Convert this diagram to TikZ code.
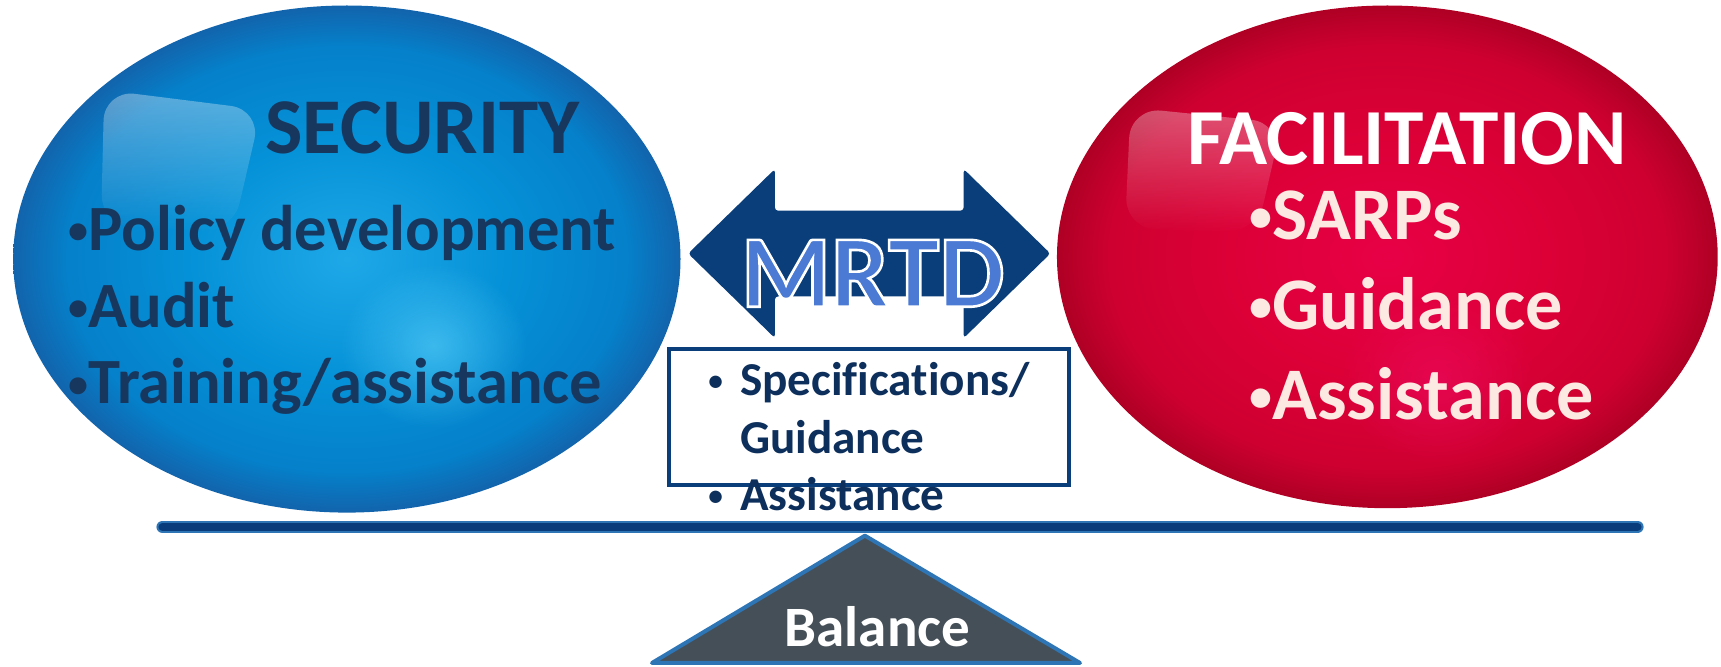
\documentclass[tikz,border=0pt]{standalone}
\usepackage{fontspec}
\usepackage{graphicx}
\setmainfont{Carlito}[Ligatures=NoCommon]
\usetikzlibrary{fadings,calc}
\definecolor{navy}{RGB}{23,55,94}
\definecolor{boxnavy}{RGB}{13,47,92}
\definecolor{arrowblue}{RGB}{10,62,122}
\definecolor{mrtdblue}{RGB}{74,122,212}
\definecolor{cream}{RGB}{252,234,226}
\definecolor{linedark}{RGB}{8,60,122}
\definecolor{linelight}{RGB}{46,117,182}
\definecolor{trigrey}{RGB}{69,79,87}
\definecolor{bA}{RGB}{30,168,232}
\definecolor{bB}{RGB}{5,145,215}
\definecolor{bC}{RGB}{5,128,202}
\definecolor{bD}{RGB}{18,100,172}
\definecolor{rA}{RGB}{232,0,70}
\definecolor{rB}{RGB}{220,0,55}
\definecolor{rC}{RGB}{206,0,48}
\definecolor{rD}{RGB}{175,0,36}
\pgfdeclareradialshading{blueball}{\pgfpoint{0bp}{0bp}}{color(0bp)=(bA); color(12bp)=(bB); color(21bp)=(bC); color(25bp)=(bD); color(50bp)=(bD)}
\pgfdeclareradialshading{redball}{\pgfpoint{0bp}{0bp}}{color(0bp)=(rA); color(12bp)=(rB); color(21bp)=(rC); color(25bp)=(rD); color(50bp)=(rD)}
\tikzfading[name=glowfade, inner color=transparent!0, outer color=transparent!100]
\newcommand\smbul{\raisebox{0.1em}{\scalebox{0.62}{•}}}
\tikzset{
  bigtitle/.style={anchor=base, font=\bfseries\fontsize{36}{36}\selectfont},
  leftitem/.style={anchor=base west, inner sep=0pt, text=navy, font=\bfseries\fontsize{29.4}{29.4}\selectfont},
  rightitem/.style={anchor=base west, inner sep=0pt, text=cream, font=\bfseries\fontsize{33.8}{33.8}\selectfont},
  boxitem/.style={anchor=base west, inner sep=0pt, text=boxnavy, font=\bfseries\fontsize{21.5}{21.5}\selectfont},
  mrtd/.style={anchor=base, font=\bfseries\fontsize{47}{47}\selectfont}
}
\begin{document}
\begin{tikzpicture}[x=0.5pt,y=-0.5pt]
\useasboundingbox (0,0) rectangle (1568,607);
% blue ball
\shade[shading=blueball] (316,236) ellipse [x radius=304, y radius=231];
\fill[white, opacity=0.35, path fading=south, rounded corners=14]
  (95,82) -- (238,100) -- (212,212) -- (92,205) -- cycle;
\fill[cyan!70!white, opacity=0.75, path fading=glowfade] (395,315) ellipse [x radius=85, y radius=75];
% red ball
\shade[shading=redball] (1264,234) ellipse [x radius=301, y radius=229];
\fill[white, opacity=0.32, path fading=south, rounded corners=14]
  (1030,98) -- (1168,112) -- (1145,212) -- (1025,208) -- cycle;
\fill[magenta!60!red, opacity=0.6, path fading=glowfade] (1310,345) ellipse [x radius=90, y radius=80];
% texts left
\node[bigtitle, text=navy] (sec) at (385,140) {SECURITY};
\node[leftitem] (pol) at (62,228) {\smbul Policy development};
\node[leftitem] (aud) at (62,298) {\smbul Audit};
\node[leftitem] (tra) at (62,368) {\smbul Training/assistance};
% texts right
\node[bigtitle, text=white, font=\bfseries\fontsize{36.2}{36.2}\selectfont] (fac) at (1282,150) {FACILITATION};
\node[rightitem] (sar) at (1138,218) {\smbul SARPs};
\node[rightitem] (gui) at (1138,300) {\smbul Guidance};
\node[rightitem] (ass) at (1138,382) {\smbul Assistance};
% double arrow
\fill[arrowblue, rounded corners=1.5] (627,231) -- (706,154) -- (706,192) -- (878,192) -- (878,154)
  -- (957,231) -- (878,308) -- (878,270) -- (706,270) -- (706,308) -- cycle;
% MRTD text, outlined in white
\node[mrtd, text=mrtdblue] (mrtd) at (795,279.5)
  {\special{pdf:literal direct 2 Tr 1.2 w 1 1 1 RG}MRTD\special{pdf:literal direct 0 Tr}};
% box
\node[draw=arrowblue, line width=1.8pt, fill=white, anchor=north west,
  minimum width=182pt, minimum height=62pt, inner sep=0pt] (specbox) at (608,316) {};
\node[boxitem] (b1) at (645,360) {\smbul};
\node[boxitem] (t1) at (674,360) {Specifications/};
\node[boxitem] (t2) at (674,413) {Guidance};
\node[boxitem] (b2) at (645,465) {\smbul};
\node[boxitem] (t3) at (674,465) {Assistance};
% balance beam
\coordinate (beamL) at (148,480);
\coordinate (beamR) at (1492,480);
\draw[linelight, line width=5.5pt, line cap=round] (beamL) -- (beamR);
\draw[linedark, line width=3.6pt, line cap=round] (beamL) -- (beamR);
% fulcrum
\coordinate (apex) at (788,488);
\coordinate (baseR) at (984,604);
\coordinate (baseL) at (594,604);
\draw[fill=trigrey, draw=linelight, line width=1.8pt, line join=round] (apex) -- (baseR) -- (baseL) -- cycle;
\node[anchor=base, text=white, font=\bfseries\fontsize{26}{26}\selectfont] (bal) at (799.5,589) {Balance};
\end{tikzpicture}
\end{document}
